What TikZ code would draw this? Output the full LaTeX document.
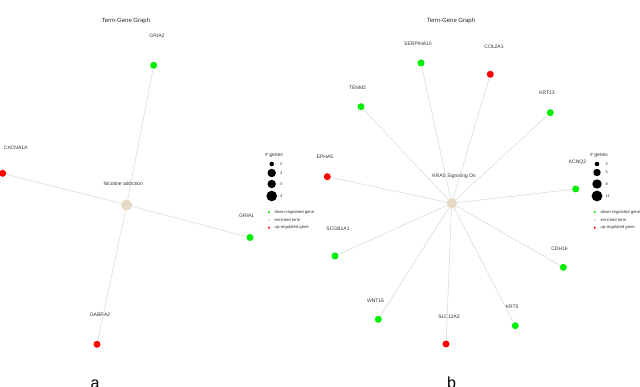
\documentclass[tikz,border=0pt]{standalone}
\usepackage{fontspec}
\setmainfont{Liberation Sans}
\definecolor{upred}{HTML}{FF0000}
\definecolor{downgreen}{HTML}{00EE00}
\definecolor{termtan}{HTML}{E6DAC6}
\definecolor{edgegray}{HTML}{DCDCDC}
\definecolor{labelgray}{HTML}{333333}
\tikzset{
  gene/.style={circle, inner sep=0pt, minimum size=7pt},
  upgene/.style={gene, fill=upred},
  downgene/.style={gene, fill=downgreen},
  termnode/.style={circle, inner sep=0pt, minimum size=11pt, fill=termtan},
  lbl/.style={inner sep=0pt, text=labelgray, font=\fontsize{5}{6}\selectfont},
  ttl/.style={inner sep=0pt, text=black!85, font=\fontsize{6}{7}\selectfont},
  legtxt/.style={inner sep=0pt, anchor=west, text=labelgray, font=\fontsize{4.2}{5}\selectfont},
  legnum/.style={inner sep=0pt, anchor=west, text=labelgray, font=\fontsize{4}{5}\selectfont},
  legdot/.style={circle, inner sep=0pt, fill=black},
  keydot/.style={circle, inner sep=0pt, minimum size=2.4pt},
  edge/.style={draw=edgegray, line width=0.6pt},
  panel/.style={inner sep=0pt, anchor=base, font=\fontsize{16}{18}\selectfont}
}
\begin{document}
\begin{tikzpicture}[x=1pt, y=-1pt]
\useasboundingbox (0,0) rectangle (640,387);
% ---------------- Panel a ----------------
\node[ttl] (ta) at (126,20.5) {Term-Gene Graph};
\node[termnode] (nic) at (126.7,205) {};
\node[lbl] (nicl) at (123.3,184) {Nicotine addiction};
\node[downgene] (gria2) at (153.7,65.3) {};
\node[lbl] (gria2l) at (157,36) {GRIA2};
\node[upgene] (cacna) at (2.7,173.3) {};
\node[lbl] (cacnal) at (15.7,148) {CACNA1A};
\node[downgene] (gria1) at (250,237.5) {};
\node[lbl] (gria1l) at (246.7,216) {GRIA1};
\node[upgene] (gabra) at (97,344.3) {};
\node[lbl] (gabral) at (100,314.7) {GABRA2};
\foreach \n in {gria2,cacna,gria1,gabra} \draw[edge] (nic) -- (\n);
% legend a
\node[lbl] (lga) at (274,155) {\# genes};
\node[legdot, minimum size=4.6pt] (la1) at (271.7,164) {};
\node[legdot, minimum size=8.4pt] (la2) at (271.7,173) {};
\node[legdot, minimum size=8.4pt] (la3) at (271.7,184) {};
\node[legdot, minimum size=10.6pt] (la4) at (271.7,196) {};
\node[legnum] (la1t) at (280,164) {2};
\node[legnum] (la2t) at (280,173) {3};
\node[legnum] (la3t) at (280,184) {3};
\node[legnum] (la4t) at (280,196) {4};
\node[keydot, fill=downgreen] (ka1) at (269,212.3) {};
\node[keydot, fill=termtan] (ka2) at (269,220) {};
\node[keydot, fill=upred] (ka3) at (269,227.7) {};
\node[legtxt] (ka1t) at (274.5,212.3) {down-regulated gene};
\node[legtxt] (ka2t) at (274.5,220) {enriched term};
\node[legtxt] (ka3t) at (274.5,227.7) {up-regulated gene};
\node[panel] (pa) at (95,388.5) {a};
% ---------------- Panel b ----------------
\node[ttl] (tb) at (451,20.5) {Term-Gene Graph};
\node[termnode, minimum size=10.5pt] (kras) at (451.7,203.3) {};
\node[lbl] (krasl) at (454,176) {KRAS Signaling Dn};
\node[downgene] (serp) at (421,63) {};
\node[lbl] (serpl) at (418,43.5) {SERPINA10};
\node[upgene] (col) at (490.3,74.3) {};
\node[lbl] (coll) at (494,47) {COL2A1};
\node[downgene] (tenm) at (361,106.7) {};
\node[lbl] (tenml) at (357.5,88) {TENM2};
\node[downgene] (krt13) at (550.3,112.7) {};
\node[lbl] (krt13l) at (547,93) {KRT13};
\node[upgene] (epha) at (327.3,176.7) {};
\node[lbl] (ephal) at (325,157) {EPHA5};
\node[downgene] (kcnq) at (575.7,189) {};
\node[lbl] (kcnql) at (577.5,162) {KCNQ2};
\node[downgene] (scgb) at (335,256) {};
\node[lbl] (scgbl) at (338,228.7) {SCGB1A1};
\node[downgene] (cdh) at (563.3,267.3) {};
\node[lbl] (cdhl) at (559.5,248.5) {CDH16};
\node[downgene] (wnt) at (378.3,319.3) {};
\node[lbl] (wntl) at (375.5,300.7) {WNT16};
\node[upgene] (slc) at (446,344) {};
\node[lbl] (slcl) at (449,316.7) {SLC12A3};
\node[downgene] (krt5) at (515.3,325.7) {};
\node[lbl] (krt5l) at (512,307.3) {KRT5};
\foreach \n in {serp,col,tenm,krt13,epha,kcnq,scgb,cdh,wnt,slc,krt5} \draw[edge] (kras) -- (\n);
% legend b
\node[lbl] (lgb) at (599,155) {\# genes};
\node[legdot, minimum size=4.6pt] (lb1) at (597,164) {};
\node[legdot, minimum size=7.4pt] (lb2) at (597,172.5) {};
\node[legdot, minimum size=9.4pt] (lb3) at (597,184) {};
\node[legdot, minimum size=10.8pt] (lb4) at (597,196) {};
\node[legnum] (lb1t) at (605.5,164) {2};
\node[legnum] (lb2t) at (605.5,172.5) {5};
\node[legnum] (lb3t) at (605.5,184) {8};
\node[legnum] (lb4t) at (605.5,196) {11};
\node[keydot, fill=downgreen] (kb1) at (594.7,212) {};
\node[keydot, fill=termtan] (kb2) at (594.7,220) {};
\node[keydot, fill=upred] (kb3) at (594.7,227.7) {};
\node[legtxt] (kb1t) at (600.5,212) {down-regulated gene};
\node[legtxt] (kb2t) at (600.5,220) {enriched term};
\node[legtxt] (kb3t) at (600.5,227.7) {up-regulated gene};
\node[panel] (pb) at (451.5,388.5) {b};
\end{tikzpicture}
\end{document}
